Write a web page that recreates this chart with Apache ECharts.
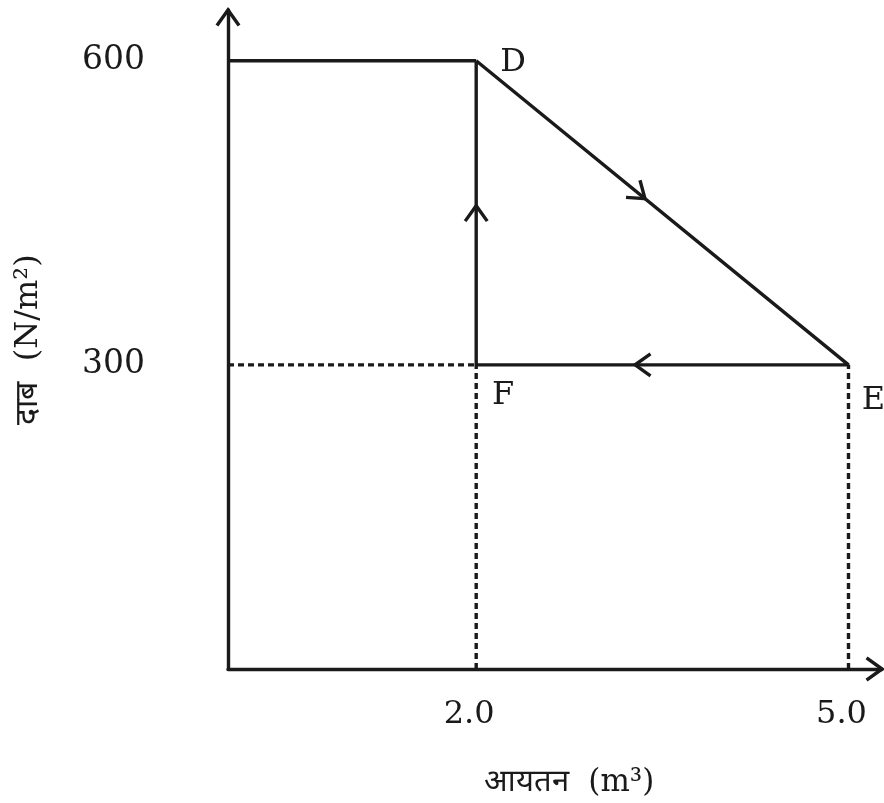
<!DOCTYPE html>
<html lang="hi">
<head>
    <meta charset="UTF-8">
    <title>P-V cycle</title>
    <script type="text/javascript" src="https://cdn.jsdelivr.net/npm/echarts@6/dist/echarts.min.js"></script>
</head>
<body style="margin:0;background:#fff">
<div id="main" style="width: 884px;height: 803px"></div>

<script>
    // axis ticks that carry labels
    var volTicks = [2.0, 5.0];
    var presTicks = [300, 600];

    // cycle D -> E -> F -> D (volume m3, pressure N/m2)
    var cycleVol = [2.0, 5.0, 2.0, 2.0];
    var cyclePres = [600, 300, 300, 600];

    // constant pressure line from the pressure axis to D
    var topVol = [0, 2.0];
    var topPres = [600, 600];

    // dotted guide lines
    var guideF = [[0, 300], [2.0, 300]];
    var dropF = [[2.0, 0], [2.0, 300]];
    var dropE = [[5.0, 0], [5.0, 300]];

    // labelled corners
    var pointNames = ['D', 'E', 'F'];
    var pointVol = [2.0, 5.0, 2.0];
    var pointPres = [600, 300, 300];

    // direction arrows on the cycle: tip position and the point it comes from
    var arrowVol = [3.36, 3.28, 2.0];
    var arrowPres = [464, 300, 457];
    var arrowFromVol = [2.0, 5.0, 2.0];
    var arrowFromPres = [600, 300, 300];

    var xMax = 5.27, yMax = 650;
    var ink = '#1a1a1a';
    var serif = 'DejaVu Serif, Liberation Serif, serif';

    function pairs(xs, ys) {
        return xs.map(function (x, i) { return [x, ys[i]]; });
    }

    var arrowData = arrowVol.map(function (v, i) {
        return [v, arrowPres[i], arrowFromVol[i], arrowFromPres[i]];
    });
    // arrow heads at the ends of both axes
    arrowData.push([0, yMax, 0, 0]);
    arrowData.push([xMax, 0, 0, 0]);

    var labelOffsets = {D: [37, 2], E: [25, 36], F: [27, 31]};

    var chart = echarts.init(document.getElementById('main'));

    var solid = {color: ink, width: 3.4};
    var dotted = {color: ink, width: 3.4, type: [6, 4]};

    var option = {
        animation: false,
        grid: {left: 228, right: 2, top: 10, bottom: 133},
        xAxis: {
            type: 'value',
            min: 0,
            max: xMax,
            splitLine: {show: false},
            axisTick: {show: false},
            axisLine: {lineStyle: solid},
            axisLabel: {
                customValues: volTicks,
                formatter: function (v) { return v.toFixed(1); },
                color: ink,
                fontFamily: serif,
                fontSize: 32,
                margin: 30,
                padding: [0, 14, 0, 0]
            },
            name: 'आयतन  (m³)',
            nameLocation: 'middle',
            nameGap: 98,
            nameTextStyle: {color: ink, fontFamily: serif, fontSize: 31, padding: [0, 0, 0, 28]}
        },
        yAxis: {
            type: 'value',
            min: 0,
            max: yMax,
            splitLine: {show: false},
            axisTick: {show: false},
            axisLine: {lineStyle: solid},
            axisLabel: {
                customValues: presTicks,
                color: ink,
                fontFamily: serif,
                fontSize: 33,
                margin: 83
            },
            name: 'दाब  (N/m²)',
            nameLocation: 'middle',
            nameRotate: 90,
            nameGap: 183,
            nameTextStyle: {color: ink, fontFamily: serif, fontSize: 32}
        },
        series: [
            {
                type: 'line',
                data: pairs(topVol, topPres),
                symbol: 'none',
                lineStyle: solid
            },
            {
                type: 'line',
                data: pairs(cycleVol, cyclePres),
                symbol: 'none',
                lineStyle: solid
            },
            {
                type: 'line',
                data: guideF,
                symbol: 'none',
                lineStyle: dotted
            },
            {
                type: 'line',
                data: dropF,
                symbol: 'none',
                lineStyle: dotted
            },
            {
                type: 'line',
                data: dropE,
                symbol: 'none',
                lineStyle: dotted
            },
            {
                type: 'scatter',
                symbolSize: 1,
                itemStyle: {opacity: 0},
                data: pointNames.map(function (n, i) {
                    return {
                        name: n,
                        value: [pointVol[i], pointPres[i]],
                        label: {offset: labelOffsets[n]}
                    };
                }),
                label: {
                    show: true,
                    position: 'inside',
                    formatter: '{b}',
                    color: ink,
                    opacity: 1,
                    fontFamily: serif,
                    fontSize: 32
                }
            },
            {
                type: 'custom',
                clip: false,
                data: arrowData,
                renderItem: function (params, api) {
                    var tip = api.coord([api.value(0), api.value(1)]);
                    var from = api.coord([api.value(2), api.value(3)]);
                    var ang = Math.atan2(tip[1] - from[1], tip[0] - from[0]);
                    var len = 19, spread = 0.62;
                    var p1 = [tip[0] - len * Math.cos(ang - spread), tip[1] - len * Math.sin(ang - spread)];
                    var p2 = [tip[0] - len * Math.cos(ang + spread), tip[1] - len * Math.sin(ang + spread)];
                    return {
                        type: 'polyline',
                        shape: {points: [p1, tip, p2]},
                        style: {stroke: ink, lineWidth: 3.4, fill: null}
                    };
                }
            }
        ]
    };

    chart.setOption(option);
</script>
</body>
</html>
